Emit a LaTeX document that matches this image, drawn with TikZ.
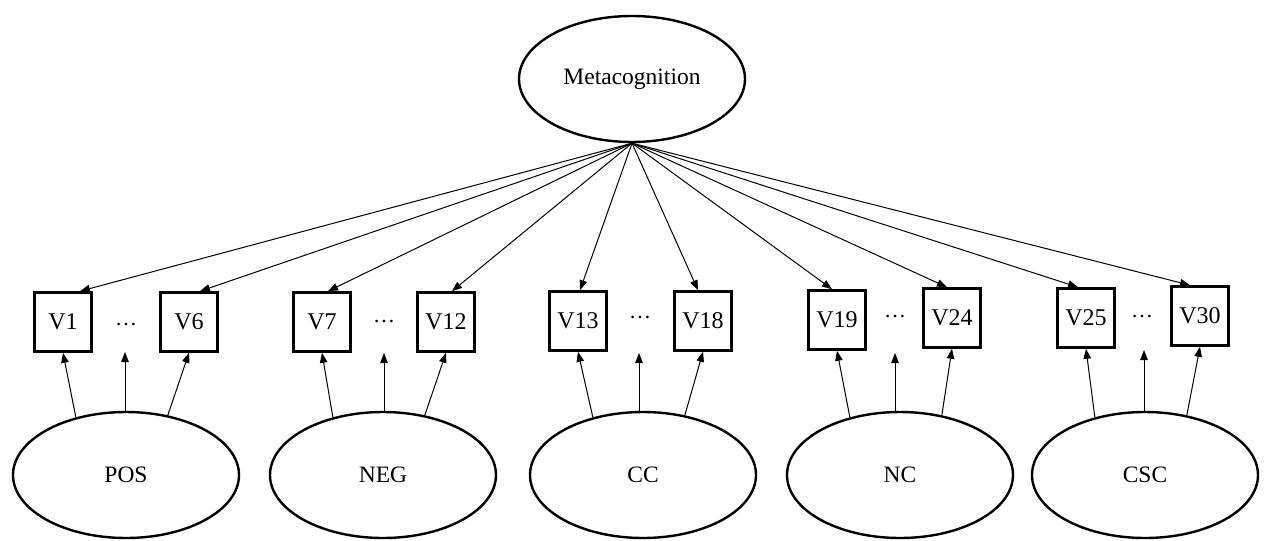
\documentclass[tikz,border=0pt]{standalone}
\usepackage{fontspec}
\setmainfont{Liberation Serif}
\usetikzlibrary{arrows.meta,shapes.geometric,calc}
\begin{document}
\begin{tikzpicture}[x=1pt,y=-1pt,
  latent/.style={draw,ellipse,line width=2.4pt,inner sep=0pt,minimum width=226pt,minimum height=126pt,font=\fontsize{23.5}{27}\selectfont},
  obs/.style={draw,rectangle,line width=2.6pt,inner sep=0pt,minimum width=57pt,minimum height=59pt,font=\fontsize{24}{28}\selectfont},
  dotsl/.style={inner sep=0pt,font=\fontsize{22}{26}\selectfont},
  arr/.style={-{Triangle[length=10pt,width=7.5pt]},line width=1pt}]
\useasboundingbox (0,0) rectangle (1267,541);
\node[latent] (Meta) at (632,79) {Metacognition};
% latent factors
\node[latent] (POS) at (126,475) {POS};
\node[latent] (NEG) at (383,475) {NEG};
\node[latent] (CC)  at (643,475) {CC};
\node[latent] (NC)  at (900,475) {NC};
\node[latent] (CSC) at (1145,475) {CSC};
% observed
\node[obs] (V1)  at (63,322)  {V1};
\node[obs] (V6)  at (189,322) {V6};
\node[obs] (V7)  at (322,322) {V7};
\node[obs] (V12) at (446,322) {V12};
\node[obs] (V13) at (578,321) {V13};
\node[obs] (V18) at (703,321) {V18};
\node[obs] (V19) at (837,320) {V19};
\node[obs] (V24) at (952,318) {V24};
\node[obs] (V25) at (1086,318) {V25};
\node[obs] (V30) at (1200,316) {V30};
% dots
\node[dotsl] (d1) at (126,325) {\dots};
\node[dotsl] (d2) at (384,322) {\dots};
\node[dotsl] (d3) at (640,318) {\dots};
\node[dotsl] (d4) at (895,317) {\dots};
\node[dotsl] (d5) at (1142,317) {\dots};
% free ends of middle arrows
\coordinate (m1) at (125,352);
\coordinate (m2) at (384,353);
\coordinate (m3) at (639,353);
\coordinate (m4) at (895,353);
\coordinate (m5) at (1144,350);
% top arrows
\draw[arr] (Meta.south) -- ($(V1.north)+(17,0)$);
\draw[arr] (Meta.south) -- ($(V6.north)+(11,0)$);
\draw[arr] (Meta.south) -- ($(V7.north)+(6,0)$);
\draw[arr] (Meta.south) -- ($(V12.north)+(6,0)$);
\draw[arr] (Meta.south) -- ($(V13.north)+(2,0)$);
\draw[arr] (Meta.south) -- ($(V18.north)+(-5,0)$);
\draw[arr] (Meta.south) -- ($(V19.north)+(-5,0)$);
\draw[arr] (Meta.south) -- ($(V24.north)+(-5,0)$);
\draw[arr] (Meta.south) -- ($(V25.north)+(-8,0)$);
\draw[arr] (Meta.south) -- ($(V30.north)+(-10,0)$);
% bottom arrows
\foreach \f/\a/\b/\m in {POS/V1/V6/m1, NEG/V7/V12/m2, CC/V13/V18/m3, NC/V19/V24/m4, CSC/V25/V30/m5}{
  \draw[arr] (\f.131) -- (\a.south);
  \draw[arr] (\f.north -| \m) -- (\m);
  \draw[arr] (\f.55) -- (\b.south);
}
\end{tikzpicture}
\end{document}
